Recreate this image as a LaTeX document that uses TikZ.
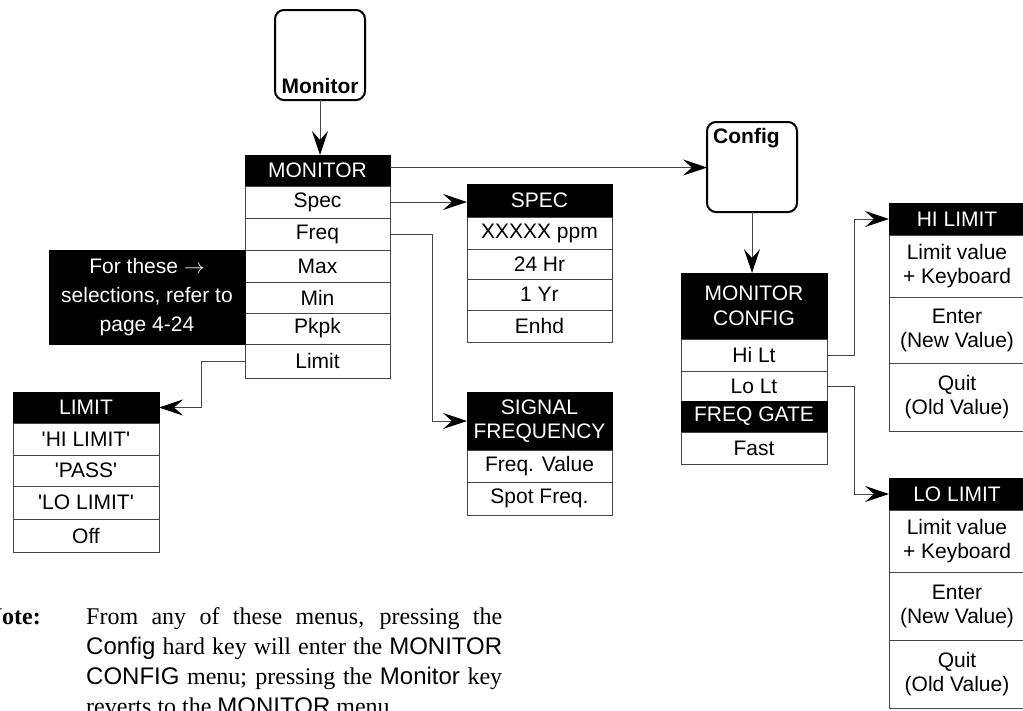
\documentclass[tikz,border=0pt]{standalone}
\usepackage{fontspec}
\setmainfont{Liberation Serif}
\setsansfont{Liberation Sans}
\usetikzlibrary{arrows.meta}
\definecolor{edgegray}{HTML}{454545}
\newcommand{\mfont}{\sffamily\fontsize{21}{24}\selectfont}
\newcommand{\nsf}[1]{{\sffamily\fontsize{24}{30}\selectfont #1}}
\newcommand{\sq}{\textquotesingle}
\begin{document}
\begin{tikzpicture}[x=1pt,y=-1pt,
  box/.style={draw=edgegray, line width=1pt, fill=white, inner sep=0pt, outer sep=0pt, anchor=north west, font=\mfont, align=center, text=black},
  hdr/.style={box, draw=black, fill=black, text=white},
  key/.style={draw=black, line width=2pt, rounded corners=9pt, inner sep=0pt, outer sep=0pt, minimum width=90pt, minimum height=90pt, anchor=north west},
  keytxt/.style={font=\sffamily\bfseries\fontsize{21}{24}\selectfont, inner sep=0pt},
  conn/.style={draw=edgegray, line width=1pt, -{Stealth[length=24pt,width=16pt,inset=9pt,color=black]}},
]
\useasboundingbox (0,0) rectangle (1023,710);
\clip (0,0) rectangle (1023,710);

% Monitor key
\node[key] (monkey) at (275,10) {};
\node[keytxt, anchor=base] (monkeytxt) at (320,93) {Monitor};

% MONITOR menu
\node[hdr, minimum width=145pt, minimum height=31pt] (mon) at (245,155) {MONITOR};
\node[box, minimum width=145pt, minimum height=32pt] (spec) at (245,186) {Spec};
\node[box, minimum width=145pt, minimum height=32pt] (freq) at (245,218) {Freq};
\node[box, minimum width=145pt, minimum height=32pt] (max) at (245,250) {Max};
\node[box, minimum width=145pt, minimum height=31pt] (min) at (245,282) {Min};
\node[box, minimum width=145pt, minimum height=31pt] (pkpk) at (245,313) {Pkpk};
\node[box, minimum width=145pt, minimum height=34pt] (limit) at (245,344) {Limit};

% note box
\node[hdr, minimum width=196pt, minimum height=94pt, font=\sffamily\fontsize{21}{29}\selectfont] (seebox) at (49,250) {For these $\rightarrow$\\selections, refer to\\page 4-24};

% LIMIT menu
\node[hdr, minimum width=146pt, minimum height=31pt] (limtitle) at (13,392) {LIMIT};
\node[box, minimum width=146pt, minimum height=32pt] (lhi) at (13,423) {\sq HI LIMIT\sq};
\node[box, minimum width=146pt, minimum height=31pt] (lpass) at (13,455) {\sq PASS\sq};
\node[box, minimum width=146pt, minimum height=33pt] (llo) at (13,486) {\sq LO LIMIT\sq};
\node[box, minimum width=146pt, minimum height=33pt] (loff) at (13,519) {Off};

% SPEC menu
\node[hdr, minimum width=145pt, minimum height=33pt] (spectitle) at (467,184) {SPEC};
\node[box, minimum width=145pt, minimum height=32pt] (sppm) at (467,217) {XXXXX ppm};
\node[box, minimum width=145pt, minimum height=30pt] (s24) at (467,249) {24 Hr};
\node[box, minimum width=145pt, minimum height=31pt] (s1y) at (467,279) {1 Yr};
\node[box, minimum width=145pt, minimum height=32pt] (senh) at (467,310) {Enhd};

% SIGNAL FREQUENCY menu
\node[hdr, minimum width=145pt, minimum height=58pt] (sigtitle) at (467,392) {SIGNAL\\FREQUENCY};
\node[box, minimum width=145pt, minimum height=32pt] (fval) at (467,450) {Freq. Value};
\node[box, minimum width=145pt, minimum height=33pt] (fspot) at (467,482) {Spot Freq.};

% Config key
\node[key] (cfgkey) at (707,122) {};
\node[keytxt, anchor=base west] (cfgkeytxt) at (713,143) {Config};

% MONITOR CONFIG menu
\node[hdr, minimum width=146pt, minimum height=66pt, font=\sffamily\fontsize{21}{25}\selectfont] (mctitle) at (681,273) {MONITOR\\CONFIG};
\node[box, minimum width=146pt, minimum height=32pt] (hilt) at (681,339) {Hi Lt};
\node[box, minimum width=146pt, minimum height=30pt] (lolt) at (681,371) {Lo Lt};
\node[hdr, minimum width=146pt, minimum height=31pt] (fgate) at (681,401) {FREQ GATE};
\node[box, minimum width=146pt, minimum height=32pt] (fast) at (681,432) {Fast};

% HI LIMIT menu
\node[hdr, minimum width=136pt, minimum height=32pt] (hititle) at (889,203) {HI LIMIT};
\node[box, minimum width=136pt, minimum height=62pt] (hival) at (889,235) {Limit value\\+ Keyboard};
\node[box, minimum width=136pt, minimum height=66pt] (hient) at (889,297) {Enter\\(New Value)};
\node[box, minimum width=136pt, minimum height=68pt] (hiquit) at (889,363) {Quit\\(Old Value)};

% LO LIMIT menu
\node[hdr, minimum width=136pt, minimum height=32pt] (lotitle) at (889,478) {LO LIMIT};
\node[box, minimum width=136pt, minimum height=62pt] (loval) at (889,510) {Limit value\\+ Keyboard};
\node[box, minimum width=136pt, minimum height=68pt] (loent) at (889,572) {Enter\\(New Value)};
\node[box, minimum width=136pt, minimum height=68pt] (loquit) at (889,640) {Quit\\(Old Value)};

% connectors
\draw[conn] (monkey.south) -- (monkey.south |- mon.north);
\draw[conn] ([yshift=3pt]mon.east) -- ([yshift=3pt]mon.east -| cfgkey.west);
\draw[conn] (spec.east) -- (spec.east -| spectitle.west);
\draw[conn] (freq.east) -- ++(42,0) |- (sigtitle.west);
\draw[conn] (limit.west) -- ++(-44,0) |- (limtitle.east);
\draw[conn] (cfgkey.south) -- (cfgkey.south |- mctitle.north);
\draw[conn] (hilt.east) -- ++(27,0) |- (hititle.west);
\draw[conn] (lolt.east) -- ++(27,0) |- (lotitle.west);

% note
\node[anchor=base east, inner sep=0pt, font=\rmfamily\bfseries\fontsize{24}{30}\selectfont] (notelbl) at (41,624) {Note:};
\node[anchor=base west, inner sep=0pt, text width=416pt, align=justify, font=\rmfamily\fontsize{24}{30}\selectfont] (notetxt) at (86,624) {From any of these menus, pressing the\linebreak \nsf{Config} hard key will enter the \nsf{MONITOR}\linebreak \nsf{CONFIG} menu; pressing the \nsf{Monitor} key\linebreak reverts to the \nsf{MONITOR} menu.};
\end{tikzpicture}
\end{document}
